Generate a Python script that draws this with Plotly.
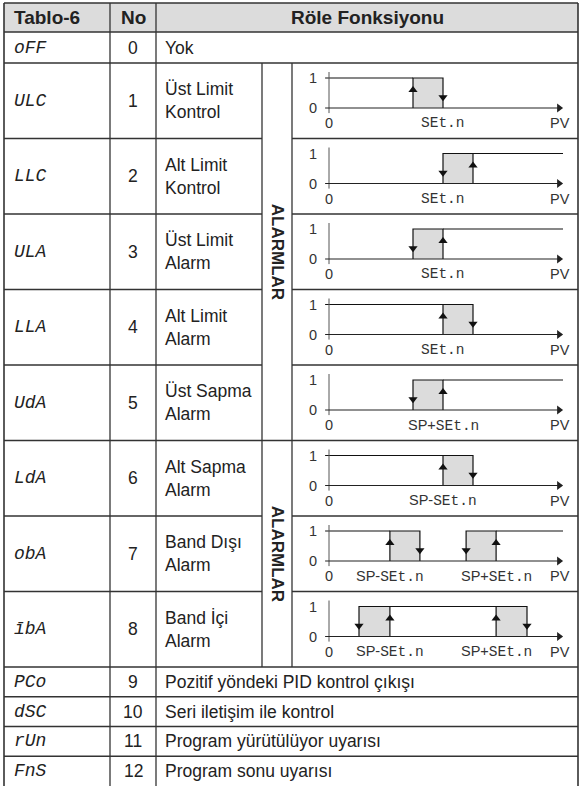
import plotly.graph_objects as go

# ---------------- data ----------------
header = ["Tablo-6", "No", "Röle Fonksiyonu"]
codes = ["oFF", "ULC", "LLC", "ULA", "LLA", "UdA", "LdA", "obA", "ībA",
         "PCo", "dSC", "rUn", "FnS"]
numbers = [0, 1, 2, 3, 4, 5, 6, 7, 8, 9, 10, 11, 12]
descriptions = ["Yok",
                "Üst Limit<br>Kontrol", "Alt Limit<br>Kontrol",
                "Üst Limit<br>Alarm", "Alt Limit<br>Alarm",
                "Üst Sapma<br>Alarm", "Alt Sapma<br>Alarm",
                "Band Dışı<br>Alarm", "Band İçi<br>Alarm",
                "Pozitif yöndeki PID kontrol çıkışı",
                "Seri iletişim ile kontrol",
                "Program yürütülüyor uyarısı",
                "Program sonu uyarısı"]
group_label = "ALARMLAR"
group_rows = [[1, 5], [6, 8]]          # first/last table row of each merged cell

# relay diagrams (PV axis in hysteresis units, output 0/1)
pv_end = 7.8
diag_high = [[[-0.13, 2.8]], [[4.8, 7.8]], [[3.8, 7.8]], [[-0.13, 3.8]],
             [[3.8, 7.8]], [[-0.13, 3.8]], [[-0.13, 2.03], [5.57, 7.8]],
             [[2.03, 5.57]]]
diag_boxes = [[[2.8, 3.8]], [[3.8, 4.8]], [[2.8, 3.8]], [[3.8, 4.8]],
              [[2.8, 3.8]], [[3.8, 4.8]], [[2.03, 3.03], [4.57, 5.57]],
              [[1.0, 2.03], [5.57, 6.6]]]
diag_up = [[2.8], [4.8], [3.8], [3.8], [3.8], [3.8], [2.03, 5.57], [2.03, 5.57]]
diag_down = [[3.8], [3.8], [2.8], [4.8], [2.8], [4.8], [3.03, 4.57], [1.0, 6.6]]
diag_tick_x = [[3.8], [3.8], [3.8], [3.8], [3.8], [3.8], [2.03, 5.57], [2.03, 5.57]]
diag_tick_text = [["SEt.n"], ["SEt.n"], ["SEt.n"], ["SEt.n"],
                  ["SP+SEt.n"], ["SP-SEt.n"],
                  ["SP-SEt.n", "SP+SEt.n"], ["SP-SEt.n", "SP+SEt.n"]]
level_labels = ["0", "1"]
level_values = [0, 1]

# ---------------- geometry (pixels) ----------------
W, H = 581, 786
X_L, X_CODE, X_NO, X_DESC, X_GRP, X_R = 4, 110, 156, 262, 292, 578
Y_TOP, Y_HEAD = 3, 32
row_tops = [32, 63] + [63 + 75.5 * k for k in range(1, 8)] + [667 + 29.75 * k for k in range(0, 4)]
row_bots = row_tops[1:] + [786]
AX0 = 329          # pixel of PV = 0
UNIT = 30          # pixels per PV unit / per output unit

LINE = "#333333"
TXT = "#222222"
BODY = "Liberation Sans, Arial, sans-serif"
SEG = "Liberation Mono, DejaVu Sans Mono, monospace"


def px(x):
    return x / W


def py(y):
    return 1 - y / H


fig = go.Figure()
shapes = []
ann = []

# header background
shapes.append(dict(type="rect", xref="paper", yref="paper", x0=px(X_L), x1=px(X_R),
                   y0=py(Y_HEAD), y1=py(Y_TOP), fillcolor="#dcdcdc", line=dict(width=0),
                   layer="below"))


def hline(y, x0, x1, w=1.3):
    shapes.append(dict(type="line", xref="paper", yref="paper", x0=px(x0), x1=px(x1),
                       y0=py(y), y1=py(y), line=dict(color=LINE, width=w)))


def vline(x, y0, y1, w=1.3):
    shapes.append(dict(type="line", xref="paper", yref="paper", x0=px(x), x1=px(x),
                       y0=py(y0), y1=py(y1), line=dict(color=LINE, width=w)))


# horizontal lines
hline(Y_TOP, X_L, X_R, 1.6)
hline(Y_HEAD, X_L, X_R, 1.6)
for i in range(1, 13):
    top = row_tops[i]
    in_group = any(a < i <= b for a, b in group_rows)
    if in_group:
        hline(top, X_L, X_DESC)
        hline(top, X_GRP, X_R)
    else:
        hline(top, X_L, X_R)
# vertical lines
vline(X_L, Y_TOP, H, 1.6)
vline(X_R, Y_TOP, H, 1.6)
vline(X_CODE, Y_TOP, H)
vline(X_NO, Y_TOP, H)
vline(X_DESC, row_tops[1], row_bots[8])
vline(X_GRP, row_tops[1], row_bots[8])

# header text
ann.append(dict(x=px(12), y=py((Y_TOP + Y_HEAD) / 2), text=header[0], xanchor="left",
                font=dict(family=BODY, size=19, color=TXT, weight="bold")))
ann.append(dict(x=px((X_CODE + X_NO) / 2), y=py((Y_TOP + Y_HEAD) / 2), text=header[1],
                font=dict(family=BODY, size=19, color=TXT, weight="bold")))
ann.append(dict(x=px((X_NO + X_R) / 2), y=py((Y_TOP + Y_HEAD) / 2), text=header[2],
                font=dict(family=BODY, size=19, color=TXT, weight="bold")))

# body text
for i in range(13):
    yc = (row_tops[i] + row_bots[i]) / 2
    ann.append(dict(x=px(12), y=py(yc), text=codes[i], xanchor="left",
                    font=dict(family=SEG, size=18, color=TXT, style="italic")))
    ann.append(dict(x=px((X_CODE + X_NO) / 2), y=py(yc), text=str(numbers[i]),
                    font=dict(family=BODY, size=17.5, color=TXT)))
    ann.append(dict(x=px(163), y=py(yc), text=descriptions[i], xanchor="left", align="left",
                    font=dict(family=BODY, size=17.5, color=TXT)))

for a, b in group_rows:
    yc = (row_tops[a] + row_bots[b]) / 2
    ann.append(dict(x=px((X_DESC + X_GRP) / 2), y=py(yc), text=group_label, textangle=90,
                    font=dict(family=BODY, size=17, color=TXT, weight="bold")))

for a in ann:
    a.setdefault("xref", "paper")
    a.setdefault("yref", "paper")
    a.setdefault("showarrow", False)
    a.setdefault("yanchor", "middle")
    a.setdefault("xanchor", "center")

# ---------------- diagrams ----------------
layout_axes = {}
seg_span = '<span style="font-family:Liberation Mono, DejaVu Sans Mono, monospace">'
for d in range(8):
    r = d + 1
    top, bot = row_tops[r], row_bots[r]
    xa, ya = f"x{d + 2}", f"y{d + 2}"
    xr = [-(AX0 - X_GRP) / UNIT, (X_R - AX0) / UNIT]
    yr = [-(bot - top - 45) / UNIT, 1 + 15 / UNIT]
    layout_axes[f"xaxis{d + 2}"] = dict(domain=[px(X_GRP), px(X_R)], range=xr, visible=False,
                                        anchor=ya, fixedrange=True)
    layout_axes[f"yaxis{d + 2}"] = dict(domain=[py(bot), py(top)], range=yr, visible=False,
                                        anchor=xa, fixedrange=True)
    common = dict(xaxis=xa, yaxis=ya, showlegend=False, hoverinfo="skip")
    # hysteresis boxes
    for x0, x1 in diag_boxes[d]:
        fig.add_trace(go.Scatter(x=[x0, x0, x1, x1], y=[0, 1, 1, 0], mode="lines", fill="toself",
                                 fillcolor="#dcdcdc", line=dict(color="#111", width=1.2), **common))
    # output high level
    hx, hy = [], []
    for x0, x1 in diag_high[d]:
        hx += [x0, x1, None]
        hy += [1, 1, None]
    fig.add_trace(go.Scatter(x=hx, y=hy, mode="lines", line=dict(color="#111", width=1.2), **common))
    # axes
    fig.add_trace(go.Scatter(x=[0, 0], y=[-0.17, 1.2], mode="lines",
                             line=dict(color="#555", width=1), **common))
    fig.add_trace(go.Scatter(x=[-0.13, pv_end - 0.1], y=[0, 0], mode="lines",
                             line=dict(color="#222", width=1.2), **common))
    fig.add_trace(go.Scatter(x=[pv_end - 0.13], y=[0], mode="markers",
                             marker=dict(symbol="triangle-right", size=8, color="#222"), **common))
    # switching arrows
    fig.add_trace(go.Scatter(x=diag_up[d], y=[0.6] * len(diag_up[d]), mode="markers",
                             marker=dict(symbol="triangle-up", size=8, color="#111"), **common))
    fig.add_trace(go.Scatter(x=diag_down[d], y=[0.36] * len(diag_down[d]), mode="markers",
                             marker=dict(symbol="triangle-down", size=8, color="#111"), **common))
    # labels
    lab_font = dict(family=BODY, size=14.5, color="#333")
    for v, t in zip(level_values, level_labels):
        ann.append(dict(xref=xa, yref=ya, x=-0.53, y=v, text=t, showarrow=False, font=lab_font))
    ann.append(dict(xref=xa, yref=ya, x=0, y=-0.5, text="0", showarrow=False, font=lab_font))
    ann.append(dict(xref=xa, yref=ya, x=pv_end - 0.1, y=-0.5, text="PV", showarrow=False,
                    font=lab_font))
    for v, t in zip(diag_tick_x[d], diag_tick_text[d]):
        parts = t.split("SEt.n")
        html = parts[0] + seg_span + "SEt.n</span>"
        ann.append(dict(xref=xa, yref=ya, x=v, y=-0.5, text=html, showarrow=False,
                        font=lab_font))

fig.update_layout(
    width=W, height=H, margin=dict(l=0, r=0, t=0, b=0),
    paper_bgcolor="white", plot_bgcolor="rgba(0,0,0,0)",
    xaxis=dict(visible=False, range=[0, 1], domain=[0, 1]),
    yaxis=dict(visible=False, range=[0, 1], domain=[0, 1]),
    shapes=shapes, annotations=ann, showlegend=False,
    **layout_axes,
)
fig.write_html("out.html", config={"displayModeBar": False},
               post_script="document.body.style.margin='0px';document.body.style.overflow='hidden';")
